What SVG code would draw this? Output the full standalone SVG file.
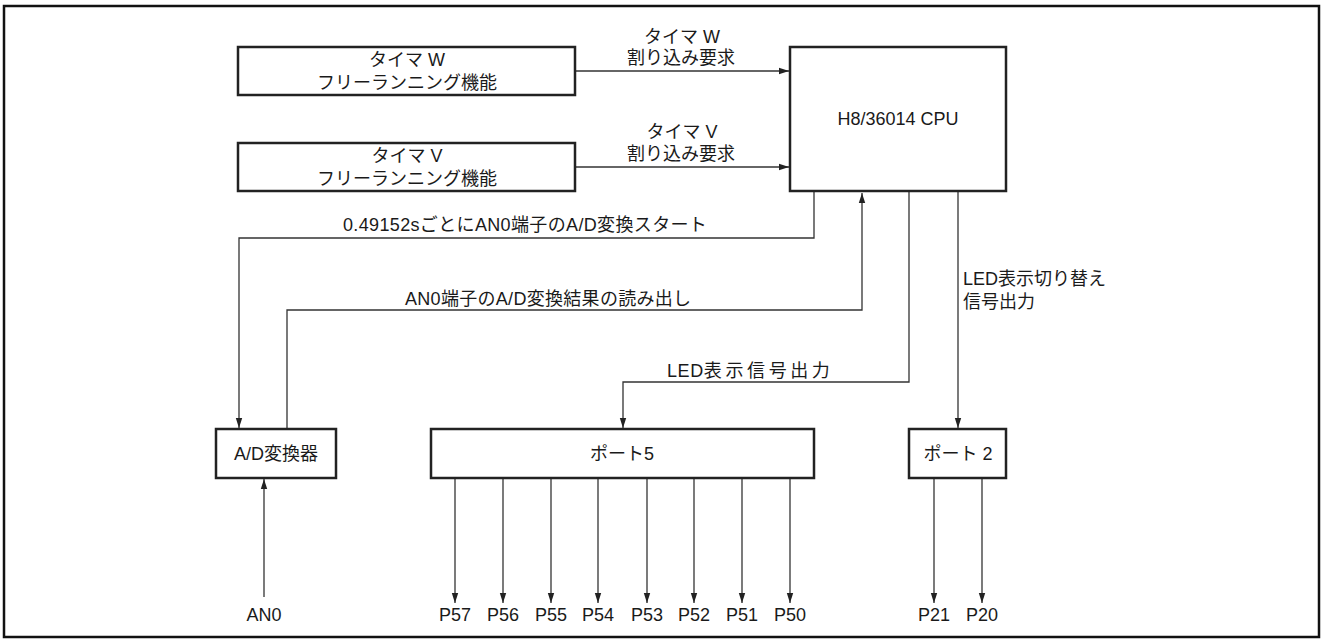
<svg xmlns="http://www.w3.org/2000/svg" width="1324" height="639" viewBox="0 0 1324 639">
<style>
.box{fill:#fff;stroke:#222;stroke-width:2.5}
.ln{fill:none;stroke:#333;stroke-width:1.3}
text{font-family:"Liberation Sans","Noto Sans CJK JP",sans-serif;font-size:18px;fill:#1a1a1a}
.m{text-anchor:middle}
</style>
<defs>
<marker id="ah" markerUnits="userSpaceOnUse" markerWidth="10" markerHeight="8" refX="10" refY="4" orient="auto">
<path d="M0,0.8 L10,4 L0,7.2 z" fill="#222"/>
</marker>
</defs>
<rect x="4" y="6" width="1315" height="631" fill="#fff" stroke="#111" stroke-width="2.5"/>
<g id="connectors">
<path class="ln" d="M575,71 H789" marker-end="url(#ah)"/>
<path class="ln" d="M575,167 H789" marker-end="url(#ah)"/>
<path class="ln" d="M814,192 V238 H239 V428" marker-end="url(#ah)"/>
<path class="ln" d="M287,429 V310 H862 V193" marker-end="url(#ah)"/>
<path class="ln" d="M909,192 V382 H623 V428" marker-end="url(#ah)"/>
<path class="ln" d="M958,192 V428" marker-end="url(#ah)"/>
<path class="ln" d="M264,597 V479" marker-end="url(#ah)"/>
<path class="ln" d="M455,479 V603" marker-end="url(#ah)"/>
<path class="ln" d="M503,479 V603" marker-end="url(#ah)"/>
<path class="ln" d="M551,479 V603" marker-end="url(#ah)"/>
<path class="ln" d="M598,479 V603" marker-end="url(#ah)"/>
<path class="ln" d="M647,479 V603" marker-end="url(#ah)"/>
<path class="ln" d="M694,479 V603" marker-end="url(#ah)"/>
<path class="ln" d="M742,479 V603" marker-end="url(#ah)"/>
<path class="ln" d="M790,479 V603" marker-end="url(#ah)"/>
<path class="ln" d="M934,479 V603" marker-end="url(#ah)"/>
<path class="ln" d="M982,479 V603" marker-end="url(#ah)"/>
<text class="m" x="682" y="43">タイマ W</text>
<text class="m" x="681" y="64">割り込み要求</text>
<text class="m" x="682" y="138">タイマ V</text>
<text class="m" x="681" y="160">割り込み要求</text>
<text x="343" y="231" letter-spacing="0.35">0.49152sごとにAN0端子のA/D変換スタート</text>
<text x="405" y="305" letter-spacing="0.3">AN0端子のA/D変換結果の読み出し</text>
<text x="667" y="377" letter-spacing="0.6"><tspan>LED</tspan><tspan letter-spacing="3.6">表示信号出力</tspan></text>
<text x="963" y="285">LED表示切り替え</text>
<text x="963" y="308">信号出力</text>
</g>
<g id="timerW">
<rect class="box" x="238" y="47" width="337" height="48"/>
<text class="m" x="407" y="66">タイマ W</text>
<text class="m" x="407" y="89">フリーランニング機能</text>
</g>
<g id="timerV">
<rect class="box" x="238" y="143" width="337" height="48"/>
<text class="m" x="407" y="162">タイマ V</text>
<text class="m" x="407" y="185">フリーランニング機能</text>
</g>
<g id="cpu">
<rect class="box" x="790" y="47" width="216" height="144"/>
<text class="m" x="898" y="125">H8/36014 CPU</text>
</g>
<g id="adc">
<rect class="box" x="216" y="429" width="120" height="49"/>
<text class="m" x="276" y="460">A/D変換器</text>
</g>
<g id="port5">
<rect class="box" x="431" y="429" width="383" height="49"/>
<text class="m" x="622" y="460">ポート5</text>
</g>
<g id="port2">
<rect class="box" x="909" y="429" width="97" height="49"/>
<text class="m" x="958" y="460">ポート 2</text>
</g>
<g id="pins">
<text class="m" x="264" y="621">AN0</text>
<text class="m" x="455" y="621">P57</text>
<text class="m" x="503" y="621">P56</text>
<text class="m" x="551" y="621">P55</text>
<text class="m" x="598" y="621">P54</text>
<text class="m" x="647" y="621">P53</text>
<text class="m" x="694" y="621">P52</text>
<text class="m" x="742" y="621">P51</text>
<text class="m" x="790" y="621">P50</text>
<text class="m" x="934" y="621">P21</text>
<text class="m" x="982" y="621">P20</text>
</g>
</svg>
